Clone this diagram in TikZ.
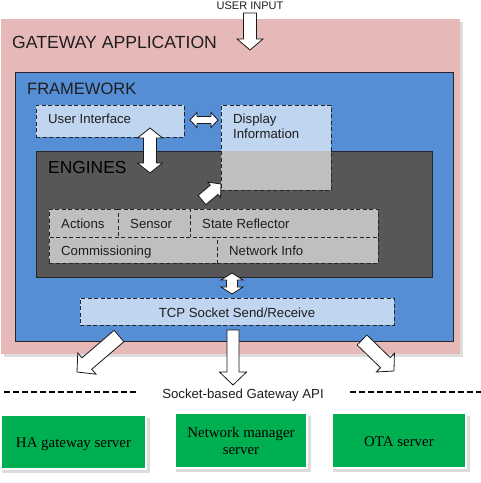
\documentclass[tikz,border=0pt]{standalone}
\usepackage{fontspec}
\setmainfont{Liberation Serif}
\setsansfont{Liberation Sans}
\usetikzlibrary{calc}
\definecolor{pinkbg}{HTML}{E6B9B8}
\definecolor{fwblue}{HTML}{558ED5}
\definecolor{lblue}{HTML}{C0D5EF}
\definecolor{engdark}{HTML}{575757}
\definecolor{greybox}{HTML}{BFBFBF}
\definecolor{srvgreen}{HTML}{00B050}
\definecolor{txtdark}{HTML}{1E1E1E}
\definecolor{shadowgrey}{HTML}{DCDCDC}
\newcommand{\FatArr}[5]{% tail, tip, shaft half, head half, head length
  \coordinate (fa-hb) at ($(#2)!#5!(#1)$);
  \draw[fatarrow] ($(#1)!#3!90:(#2)$) -- ($(fa-hb)!#3!90:(#2)$) -- ($(fa-hb)!#4!90:(#2)$)
    -- (#2) -- ($(fa-hb)!#4!-90:(#2)$) -- ($(fa-hb)!#3!-90:(#2)$) -- ($(#1)!#3!-90:(#2)$) -- cycle;
}
\newcommand{\DblArr}[5]{% end a, end b, shaft half, head half, head length
  \coordinate (da-hb) at ($(#2)!#5!(#1)$);
  \coordinate (da-ha) at ($(#1)!#5!(#2)$);
  \draw[fatarrow] (#1) -- ($(da-ha)!#4!90:(#2)$) -- ($(da-ha)!#3!90:(#2)$)
    -- ($(da-hb)!#3!90:(#2)$) -- ($(da-hb)!#4!90:(#2)$) -- (#2)
    -- ($(da-hb)!#4!-90:(#2)$) -- ($(da-hb)!#3!-90:(#2)$)
    -- ($(da-ha)!#3!-90:(#2)$) -- ($(da-ha)!#4!-90:(#2)$) -- cycle;
}
\tikzset{
  boxsty/.style={rectangle, inner sep=0pt, outer sep=0pt},
  dashbox/.style={boxsty, draw=black!85, dash pattern=on 4pt off 2.5pt, line width=1pt},
  solidbox/.style={boxsty, draw=black!85, line width=0.8pt},
  lbl/.style={inner sep=0pt, text=txtdark, font=\sffamily\fontsize{13.2}{15}\selectfont},
  biglbl/.style={inner sep=0pt, text=txtdark, font=\sffamily\fontsize{17.6}{20}\selectfont},
  srvlbl/.style={inner sep=0pt, text=black, align=center, font=\rmfamily\fontsize{14.9}{17}\selectfont},
  fatarrow/.style={draw=black!90, fill=white, line width=0.8pt, line join=miter},
  apiline/.style={draw=black, line width=2.3pt, dash pattern=on 6pt off 3pt},
}
\begin{document}
\begin{tikzpicture}[x=1pt, y=-1pt]
\useasboundingbox (0,0) rectangle (481,483);
\fill[white] (0,0) rectangle (481,483);
% gateway application
\fill[shadowgrey] (4,22) rectangle (463,357);
\node[boxsty, fill=pinkbg, minimum width=459pt, minimum height=335pt] (gw) at (230.5,186.5) {};
\node[biglbl, anchor=base west] (gwlbl) at (12,48) {GATEWAY APPLICATION};
% framework
\node[solidbox, fill=fwblue, minimum width=438pt, minimum height=269pt] (fw) at (234,206.5) {};
\node[biglbl, font=\sffamily\fontsize{16.5}{19}\selectfont, anchor=base west] (fwlbl) at (27,94) {FRAMEWORK};
% user interface
\node[dashbox, fill=lblue, minimum width=148pt, minimum height=32pt] (ui) at (110,121) {};
\node[lbl, anchor=base west] (uilbl) at (48,123) {User Interface};
% engines
\node[solidbox, fill=engdark, minimum width=396pt, minimum height=126pt] (eng) at (234,214) {};
\node[biglbl, font=\sffamily\fontsize{17.4}{20}\selectfont, text=black, anchor=base west] (englbl) at (48,173) {ENGINES};
% display information
\fill[lblue] (221,105) rectangle (331,151);
\fill[greybox] (221,151) rectangle (331,190);
\node[dashbox, minimum width=110pt, minimum height=85pt] (disp) at (276,147.5) {};
\node[lbl, anchor=base west] (displbl) at (233,123) {Display};
\node[lbl, anchor=base west] (displbl2) at (233,138) {Information};
% engine rows
\node[dashbox, fill=greybox, minimum width=69pt, minimum height=28pt] (act) at (83.5,223) {};
\node[dashbox, fill=greybox, minimum width=72pt, minimum height=28pt] (sen) at (154,223) {};
\node[dashbox, fill=greybox, minimum width=188pt, minimum height=28pt] (sta) at (284,223) {};
\node[dashbox, fill=greybox, minimum width=168pt, minimum height=26pt] (com) at (133,250) {};
\node[dashbox, fill=greybox, minimum width=161pt, minimum height=26pt] (net) at (297.5,250) {};
\node[lbl, anchor=base west] (actlbl) at (61,228) {Actions};
\node[lbl, anchor=base west] (senlbl) at (130,228) {Sensor};
\node[lbl, anchor=base west] (stalbl) at (202,228) {State Reflector};
\node[lbl, anchor=base west] (comlbl) at (61,255) {Commissioning};
\node[lbl, anchor=base west] (netlbl) at (229,255) {Network Info};
% tcp
\node[dashbox, fill=lblue, minimum width=314pt, minimum height=27pt] (tcp) at (237,311.5) {};
\node[lbl, anchor=base] (tcplbl) at (237,317) {TCP Socket Send/Receive};
% user input
\node[lbl, font=\sffamily\fontsize{11}{13}\selectfont, anchor=base] (uin) at (250,9.5) {USER INPUT};
% arrow end points
\coordinate (uin-a) at (250,13);  \coordinate (uin-b) at (250,50);
\coordinate (uie-a) at (150,128); \coordinate (uie-b) at (150,173);
\coordinate (uid-a) at (190,120); \coordinate (uid-b) at (218,120);
\coordinate (ed-a) at (202,200);  \coordinate (ed-b) at (221,184);
\coordinate (et-a) at (232,273);  \coordinate (et-b) at (232,294);
\coordinate (bl-a) at (119,336);  \coordinate (bl-b) at (77,372);
\coordinate (bm-a) at (233,330);  \coordinate (bm-b) at (233,385);
\coordinate (br-a) at (362,340);  \coordinate (br-b) at (394,371);
\FatArr{uin-a}{uin-b}{6.5pt}{13pt}{11pt}
\DblArr{uie-a}{uie-b}{6.5pt}{12.5pt}{10pt}
\DblArr{uid-a}{uid-b}{3.5pt}{7.5pt}{7pt}
\FatArr{ed-a}{ed-b}{6pt}{10pt}{9pt}
\DblArr{et-a}{et-b}{5.5pt}{11pt}{7pt}
\FatArr{bl-a}{bl-b}{7.5pt}{14pt}{13pt}
\FatArr{bm-a}{bm-b}{6pt}{13.5pt}{13pt}
\FatArr{br-a}{br-b}{7pt}{13pt}{12pt}
% API line
\coordinate (apil-a) at (4,392);   \coordinate (apil-b) at (137,392);
\coordinate (apir-a) at (350,392); \coordinate (apir-b) at (481,392);
\draw[apiline] (apil-a) -- (apil-b);
\draw[apiline] (apir-a) -- (apir-b);
\node[lbl, anchor=base] (api) at (243,398) {Socket-based Gateway API};
% servers
\fill[shadowgrey] (2,418) rectangle (150,473);
\fill[white] (0,414) rectangle (147,470);
\node[boxsty, fill=srvgreen, minimum width=143pt, minimum height=52pt] (ha) at (73.5,442) {};
\node[srvlbl, anchor=base] (halbl) at (73.5,447) {HA gateway server};
\fill[shadowgrey] (176,416) rectangle (311,472);
\fill[white] (173,411) rectangle (308,469);
\node[boxsty, fill=srvgreen, minimum width=130pt, minimum height=53pt] (nm) at (241,440.5) {};
\node[srvlbl, anchor=base] (nmlbl) at (241,437) {Network manager};
\node[srvlbl, anchor=base] (nmlbl2) at (241,454) {server};
\fill[shadowgrey] (333,416) rectangle (470,472);
\fill[white] (330,411) rectangle (467,469);
\node[boxsty, fill=srvgreen, minimum width=132pt, minimum height=53pt] (ota) at (399,440.5) {};
\node[srvlbl, anchor=base] (otalbl) at (399,446) {OTA server};
\end{tikzpicture}
\end{document}
